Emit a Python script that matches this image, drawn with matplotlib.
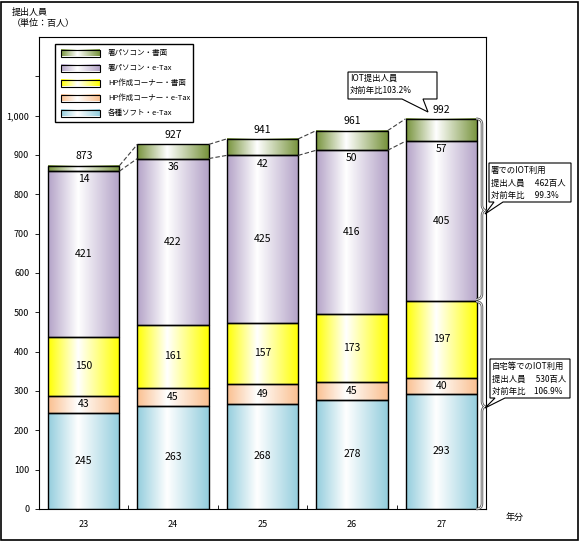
import numpy as np
import matplotlib
matplotlib.use("Agg")
import matplotlib.pyplot as plt
from matplotlib.colors import LinearSegmentedColormap
from matplotlib.patches import Rectangle, Polygon
from matplotlib.path import Path
from matplotlib.patches import PathPatch
from matplotlib.ticker import FixedLocator, FixedFormatter

plt.rcParams['font.family'] = ['Noto Sans CJK JP', 'DejaVu Sans']

years = ['23', '24', '25', '26', '27']
soft_etax = [245, 263, 268, 278, 293]      # 各種ソフト・e-Tax
hp_etax = [43, 45, 49, 45, 40]             # HP作成コーナー・e-Tax
hp_paper = [150, 161, 157, 173, 197]       # HP作成コーナー・書面
office_etax = [421, 422, 425, 416, 405]    # 署パソコン・e-Tax
office_paper = [14, 36, 42, 50, 57]        # 署パソコン・書面
totals = [873, 927, 941, 961, 992]

series_names = ['各種ソフト・e-Tax', 'HP作成コーナー・e-Tax', 'HP作成コーナー・書面',
                '署パソコン・e-Tax', '署パソコン・書面']
series_vals = [soft_etax, hp_etax, hp_paper, office_etax, office_paper]
colors = ['#93CDDD', '#FABF8F', '#FFFF00', '#B3A2C7', '#77933C']

W, H = 580, 541
fig = plt.figure(figsize=(W / 100, H / 100), dpi=100)
fig.patch.set_facecolor('white')

def fp(x, y):
    return (x / W, 1 - y / H)

ax = fig.add_axes([39 / W, 1 - 509 / H, (486 - 39) / W, (509 - 37) / H])

def grad_cmap(c):
    return LinearSegmentedColormap.from_list('g', [(0, c), (0.42, 'white'), (1, c)])

grad = np.linspace(0, 1, 256).reshape(1, -1)
x = np.arange(len(years))
width = 0.8
bottom = np.zeros(len(years))
cum_tops = []
for vals, c in zip(series_vals, colors):
    vals = np.array(vals, dtype=float)
    for i in range(len(years)):
        ax.imshow(grad, cmap=grad_cmap(c), extent=[x[i] - width / 2, x[i] + width / 2,
                                                    bottom[i], bottom[i] + vals[i]],
                  aspect='auto', zorder=1, interpolation='bilinear')
    ax.bar(x, vals, width, bottom=bottom, facecolor='none', edgecolor='black',
           linewidth=1.0, zorder=2)
    bottom = bottom + vals
    cum_tops.append(bottom.copy())

# segment labels
bottom = np.zeros(len(years))
for k, vals in enumerate(series_vals):
    vals = np.array(vals, dtype=float)
    for i in range(len(years)):
        if k == 4:
            ax.text(x[i], bottom[i] - 8, str(int(vals[i])), ha='center', va='top',
                    fontsize=7.5, zorder=5)
        else:
            ax.text(x[i], bottom[i] + vals[i] / 2, str(int(vals[i])), ha='center',
                    va='center', fontsize=7.5, zorder=5)
    bottom = bottom + vals

for i in range(len(years)):
    ax.annotate(str(totals[i]), (x[i], cum_tops[4][i]), xytext=(0, 3),
                textcoords='offset points', ha='center', va='bottom', fontsize=7.5)

# series lines (dashed)
for level in (cum_tops[3], cum_tops[4]):
    for i in range(len(years) - 1):
        ax.plot([x[i] + width / 2, x[i + 1] - width / 2], [level[i], level[i + 1]],
                ls=(0, (4, 2)), color='#404040', lw=0.8, zorder=3)

ax.set_xlim(-0.5, 4.5)
ax.set_ylim(0, 1200)
yt = list(range(0, 1200, 100))
ax.yaxis.set_major_locator(FixedLocator(yt))
ax.yaxis.set_major_formatter(FixedFormatter([f'{v:,}' if v <= 1000 else '' for v in yt]))
ax.set_xticks(x)
ax.set_xticklabels(years)
ax.set_xticks(np.arange(0.5, 4.5, 1), minor=True)
ax.tick_params(axis='x', which='major', length=0, labelsize=6.5, pad=8)
ax.tick_params(axis='x', which='minor', length=3, direction='in', width=0.6)
ax.tick_params(axis='y', length=3, width=0.6, labelsize=6.5, pad=4)
for s in ax.spines.values():
    s.set_linewidth(0.8)
    s.set_color('black')

# braces
def brace(y0, y1):
    xm, xe, xt = 4.455, 4.39, 4.49
    ym = (y0 + y1) / 2
    verts = [(xe, y1), (xm, y1), (xm, y1 - 14),
             (xm, ym + 10), (xm, ym), (xt, ym - 3),
             (xm, ym - 6), (xm, ym - 16),
             (xm, y0 + 14), (xm, y0), (xe, y0)]
    codes = [Path.MOVETO, Path.CURVE3, Path.CURVE3,
             Path.LINETO, Path.CURVE3, Path.CURVE3,
             Path.CURVE3, Path.CURVE3,
             Path.LINETO, Path.CURVE3, Path.CURVE3]
    p = Path(verts, codes)
    ax.add_patch(PathPatch(p, fc='none', ec='#505050', lw=1.8, clip_on=False, zorder=4))
    ax.add_patch(PathPatch(p, fc='none', ec='white', lw=0.6, clip_on=False, zorder=4))

brace(cum_tops[2][4] + 3, cum_tops[4][4])
brace(0, cum_tops[2][4] - 3)

# legend + callouts overlay (pixel coordinates)
leg_ax = fig.add_axes([0, 0, 1, 1], facecolor='none')
leg_ax.axis('off')
lx0, ly0, lx1, ly1 = 55, 44, 193, 122
leg_ax.add_patch(Rectangle((lx0, ly0), lx1 - lx0, ly1 - ly0, fc='white', ec='black',
                           lw=1.0, zorder=1))
for j, k in enumerate([4, 3, 2, 1, 0]):
    yc = 53 + j * 15
    leg_ax.imshow(grad, cmap=grad_cmap(colors[k]), extent=[61, 100, yc + 3.5, yc - 3.5],
                  aspect='auto', zorder=2)
    leg_ax.add_patch(Rectangle((61, yc - 3.5), 39, 7, fc='none', ec='black', lw=0.8, zorder=3))
    leg_ax.text(108, yc, series_names[k], fontsize=5.4, va='center', ha='left', zorder=3)

def callout(pts, text, tx, ty):
    leg_ax.add_patch(Polygon(pts, closed=True, fc='white', ec='black', lw=0.8, zorder=6))
    leg_ax.text(tx, ty, text, fontsize=6, va='top', ha='left', zorder=7, linespacing=1.5)

callout([(348, 72), (437, 72), (437, 99), (423, 99), (428, 112), (402, 99), (348, 99)],
        'IOT提出人員\n対前年比103.2%', 350, 74)
callout([(489, 163), (571, 163), (571, 202), (503, 202), (485, 214), (494, 202), (489, 202)],
        '署でのIOT利用\n提出人員　 462百人\n対前年比　 99.3%', 491, 166)
callout([(490, 359), (570, 359), (570, 398), (505, 398), (485, 408), (495, 398), (490, 398)],
        '自宅等でのIOT利用\n提出人員　 530百人\n対前年比　106.9%', 492, 362)
leg_ax.set_xlim(0, W)
leg_ax.set_ylim(H, 0)

# axis titles
fig.text(*fp(12, 8), '提出人員\n（単位：百人）', fontsize=6.5, va='top', ha='left', linespacing=1.3)
fig.text(*fp(506, 517), '年分', fontsize=6.5, va='center', ha='left')

# figure border
fig.patches.append(Rectangle((0.002, 0.002), 0.995, 0.995, transform=fig.transFigure,
                             fc='none', ec='black', lw=1.2))

fig.savefig('out.png', dpi=100)
